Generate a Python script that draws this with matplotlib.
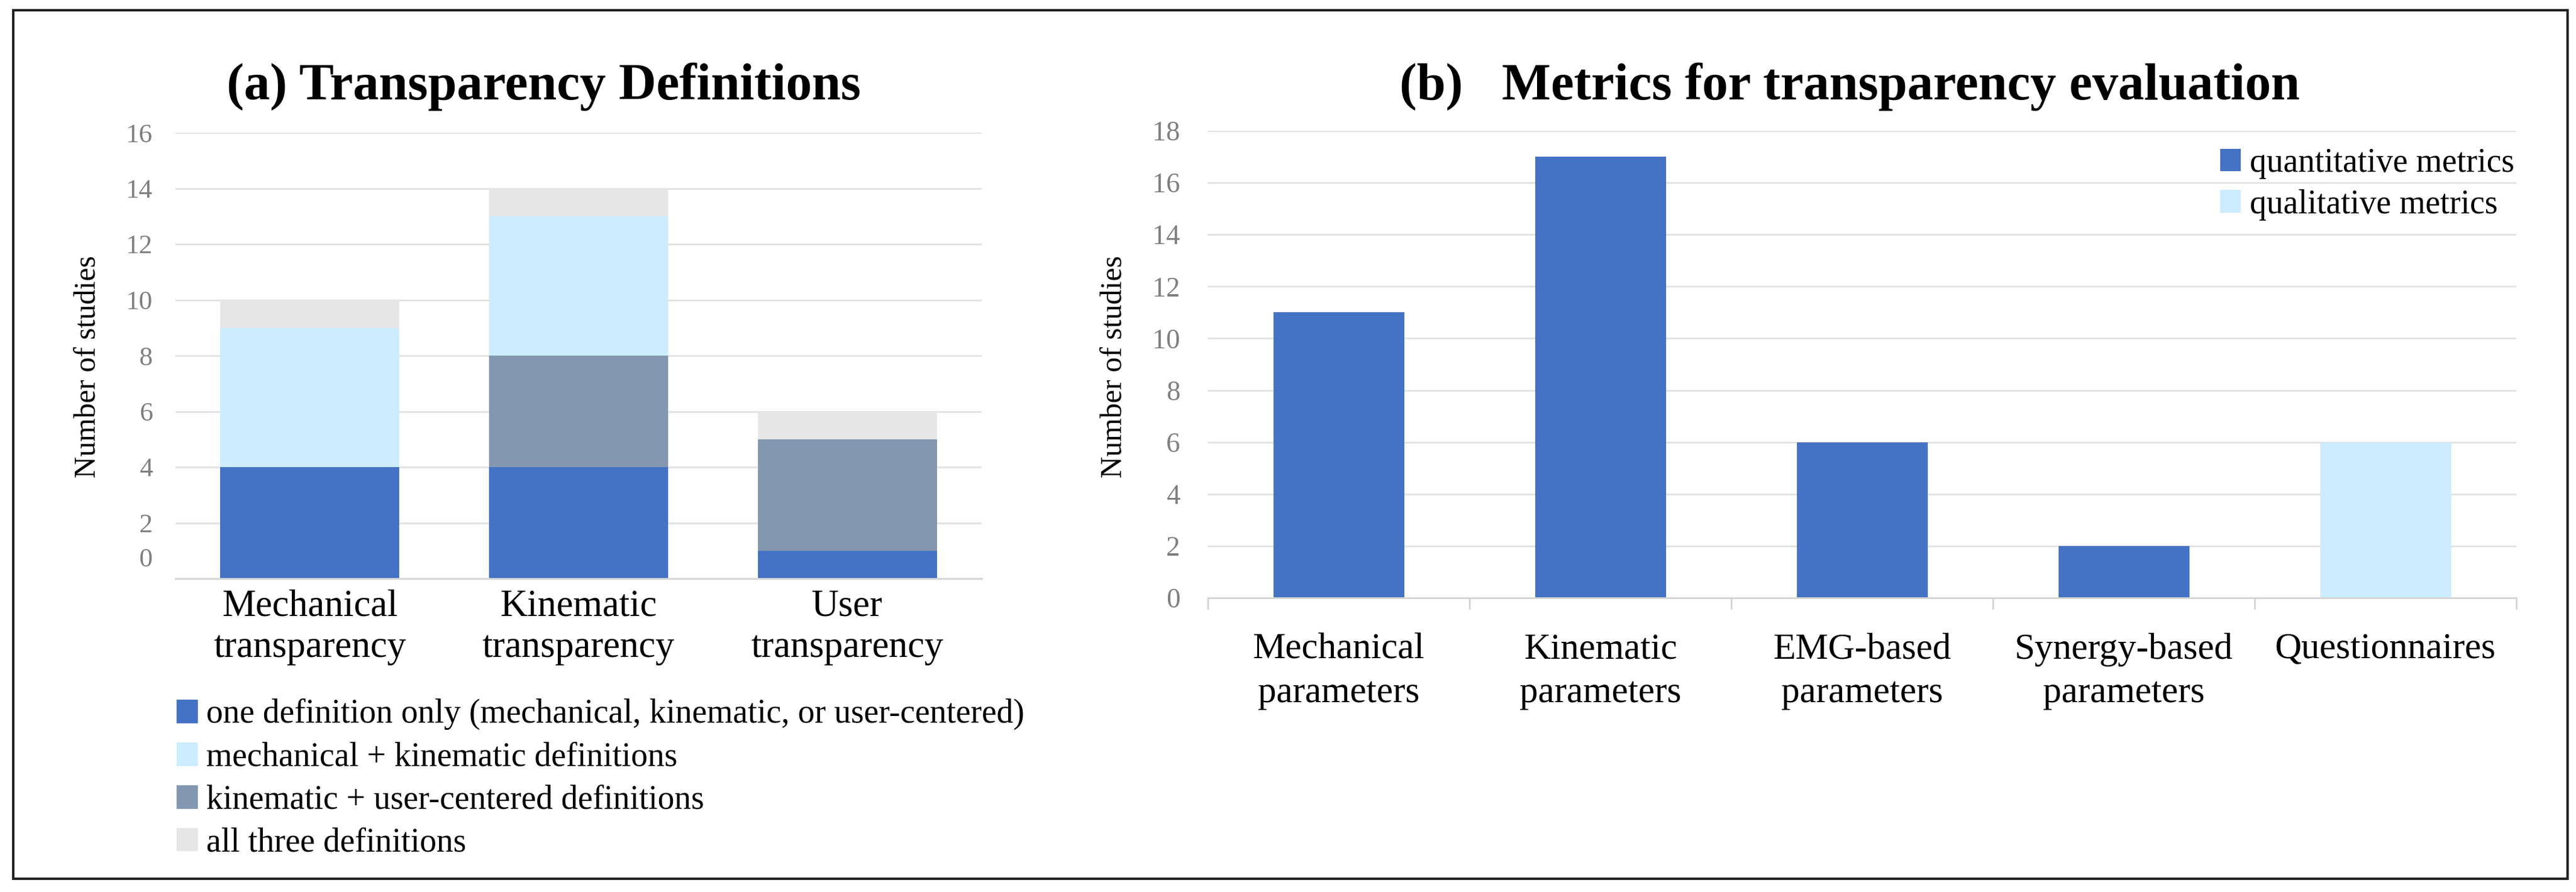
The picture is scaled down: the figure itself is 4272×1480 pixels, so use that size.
import matplotlib
matplotlib.use('Agg')
import numpy as np
import matplotlib.pyplot as plt
from matplotlib.patches import Patch, Rectangle

plt.rcParams['font.family'] = ['Liberation Serif', 'DejaVu Serif']

W, H = 4272, 1480
DPI = 100


def pt(px):
    return px * 72 / DPI


# (a) transparency definitions, stacked
def_categories = ['Mechanical\ntransparency', 'Kinematic\ntransparency', 'User\ntransparency']
one_def = [4, 4, 1]
kin_user = [0, 4, 4]
mech_kin = [5, 5, 0]
all_three = [1, 1, 1]
def_ticks = [2, 4, 6, 8, 10, 12, 14, 16]

# (b) metrics
metric_categories = ['Mechanical\nparameters', 'Kinematic\nparameters', 'EMG-based\nparameters',
                     'Synergy-based\nparameters', 'Questionnaires']
quantitative = [11, 17, 6, 2, 0]
qualitative = [0, 0, 0, 0, 6]
metric_ticks = [0, 2, 4, 6, 8, 10, 12, 14, 16, 18]

BLUE = '#4472C4'
LIGHT_BLUE = '#CCECFF'
GRAY_BLUE = '#8497B0'
LIGHT_GRAY = '#E7E6E6'
GRID = '#E3E3E3'
AXIS = '#D6D6D6'
TICK = '#7F7F7F'

fig = plt.figure(figsize=(W / DPI, H / DPI), dpi=DPI)

# ---------- panel (a)
ax1 = fig.add_axes([291 / W, 1 - 960 / H, (1628 - 291) / W, (960 - 220) / H])
x = np.arange(len(def_categories))
bw = 0.667
b1 = np.array(one_def)
b2 = b1 + np.array(kin_user)
b3 = b2 + np.array(mech_kin)
ax1.bar(x, one_def, bw, color=BLUE, zorder=2)
ax1.bar(x, kin_user, bw, bottom=b1, color=GRAY_BLUE, zorder=2)
ax1.bar(x, mech_kin, bw, bottom=b2, color=LIGHT_BLUE, zorder=2)
ax1.bar(x, all_three, bw, bottom=b3, color=LIGHT_GRAY, zorder=2)
ax1.set_xlim(-0.5, 2.5)
ax1.set_ylim(0, 16)
ax1.set_yticks(def_ticks)
ax1.set_yticklabels([str(v) for v in def_ticks])
# the zero label sits a bit above the axis line in the original
ax1.set_yticks([0.76], minor=True)
ax1.set_yticklabels(['0'], minor=True)
ax1.yaxis.grid(True, which='major', color=GRID, lw=pt(3), zorder=0)
ax1.tick_params(axis='y', which='both', length=0, pad=pt(38), labelsize=32, labelcolor=TICK)
ax1.set_xticks(x)
ax1.set_xticklabels(def_categories, fontsize=45, linespacing=1.22)
ax1.tick_params(axis='x', length=0, pad=pt(18))
for s in ['top', 'right', 'left']:
    ax1.spines[s].set_visible(False)
ax1.spines['bottom'].set_color(AXIS)
ax1.spines['bottom'].set_linewidth(pt(3))
ax1.set_axisbelow(True)

fig.text(902 / W, 1 - 165 / H, '(a) Transparency Definitions', fontsize=62, fontweight='bold',
         ha='center', va='baseline')
fig.text(146 / W, 1 - 609 / H, 'Number of studies', fontsize=36, rotation=90,
         ha='center', va='center')

handles_a = [Patch(color=BLUE), Patch(color=LIGHT_BLUE), Patch(color=GRAY_BLUE), Patch(color=LIGHT_GRAY)]
labels_a = ['one definition only (mechanical, kinematic, or user-centered)',
            'mechanical + kinematic definitions',
            'kinematic + user-centered definitions',
            'all three definitions']
fig.legend(handles_a, labels_a, loc='upper left', bbox_to_anchor=(293 / W, 1 - 1159 / H),
           frameon=False, fontsize=40, borderpad=0, borderaxespad=0,
           handlelength=0.61, handleheight=0.67, handletextpad=0.27, labelspacing=0.34)

# ---------- panel (b)
ax2 = fig.add_axes([2003 / W, 1 - 992 / H, (4173 - 2003) / W, (992 - 217) / H])
x2 = np.arange(len(metric_categories))
ax2.bar(x2, quantitative, 0.5, color=BLUE, zorder=2, label='quantitative metrics')
ax2.bar(x2, qualitative, 0.5, bottom=quantitative, color=LIGHT_BLUE, zorder=2,
        label='qualitative metrics')
ax2.set_xlim(-0.5, 4.5)
ax2.set_ylim(0, 18)
ax2.set_yticks(metric_ticks)
ax2.yaxis.grid(True, color=GRID, lw=pt(3), zorder=0)
ax2.tick_params(axis='y', length=0, pad=pt(46), labelsize=33, labelcolor=TICK)
ax2.set_xticks(x2)
ax2.set_xticklabels(metric_categories, fontsize=44, linespacing=1.4)
ax2.set_xticks(np.arange(-0.5, 5, 1), minor=True)
ax2.tick_params(axis='x', which='major', length=0, pad=pt(58))
ax2.tick_params(axis='x', which='minor', length=pt(19), width=pt(3), color=AXIS)
for s in ['top', 'right', 'left']:
    ax2.spines[s].set_visible(False)
ax2.spines['bottom'].set_color(AXIS)
ax2.spines['bottom'].set_linewidth(pt(3))
ax2.set_axisbelow(True)

fig.text(3067 / W, 1 - 165 / H, '(b)   Metrics for transparency evaluation', fontsize=62,
         fontweight='bold', ha='center', va='baseline')
fig.text(1848 / W, 1 - 609 / H, 'Number of studies', fontsize=36, rotation=90,
         ha='center', va='center')

ax2.legend(loc='upper left', bbox_to_anchor=(3682 / W, 1 - 245 / H),
           bbox_transform=fig.transFigure, frameon=False, fontsize=40, borderpad=0,
           borderaxespad=0, handlelength=0.61, handleheight=0.67, handletextpad=0.27,
           labelspacing=0.3)

# outer frame
fig.patches.append(Rectangle((22 / W, 1 - 1458 / H), (4258 - 22) / W, (1458 - 17) / H,
                             transform=fig.transFigure, fill=False, ec='#222222', lw=pt(4)))

fig.savefig('out.png', dpi=DPI, facecolor='white')
